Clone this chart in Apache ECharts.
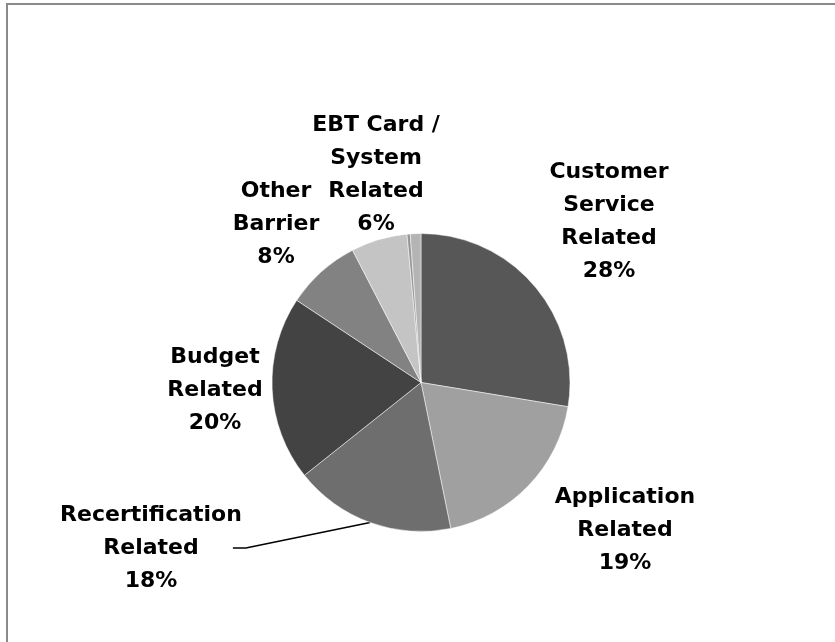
<!DOCTYPE html>
<html>
<head>
<meta charset="utf-8">
<script src="https://cdn.jsdelivr.net/npm/echarts@6/dist/echarts.min.js"></script>
<style>
  html, body { margin: 0; padding: 0; background: #ffffff; }
  #chart { width: 835px; height: 642px; }
</style>
</head>
<body>
<div id="chart"></div>
<script>
// Barrier categories, clockwise from 12 o'clock (the last two are unlabelled slivers)
const categories = [
  'Customer\nService\nRelated',
  'Application\nRelated',
  'Recertification\nRelated',
  'Budget\nRelated',
  'Other\nBarrier',
  'EBT Card /\nSystem\nRelated',
  'Minor A',
  'Minor B'
];
// Share of responses (percent)
const shares = [27.6, 19.2, 17.5, 20.0, 8.1, 6.1, 0.35, 1.15];
// Whether each slice carries a label
const labelled = [true, true, true, true, true, true, false, false];

// Presentation
const sliceColors = ['#575757', '#a0a0a0', '#6e6e6e', '#434343', '#828282', '#c4c4c4', '#969696', '#b4b4b4'];
// Label block centres (px) for the labelled slices
const labelAnchors = [[609, 222], [625, 530], [151, 548], [215, 390], [276, 224], [376, 175]];
const LEADER_INDEX = 2; // the one label drawn with a leader line

const chart = echarts.init(document.getElementById('chart'), null, { renderer: 'canvas' });

const data = categories.map((name, i) => ({
  name: name,
  value: shares[i],
  itemStyle: { color: sliceColors[i] },
  label: { show: labelled[i] },
  labelLine: { show: i === LEADER_INDEX }
}));

chart.setOption({
  animation: false,
  backgroundColor: '#ffffff',
  graphic: [{
    type: 'rect',
    shape: { x: 7, y: 4, width: 900, height: 700 },
    style: { fill: 'none', stroke: '#8a8a8a', lineWidth: 2 },
    silent: true
  }],
  series: [{
    type: 'pie',
    center: [421, 382.5],
    radius: 149,
    startAngle: 90,
    clockwise: true,
    percentPrecision: 0,
    avoidLabelOverlap: false,
    itemStyle: { borderColor: '#ffffff', borderWidth: 0.5 },
    label: {
      show: true,
      position: 'outside',
      formatter: '{b}\n{d}%',
      color: '#000000',
      fontFamily: '"DejaVu Sans", sans-serif',
      fontWeight: 'bold',
      fontSize: 22,
      lineHeight: 33,
      align: 'center'
    },
    labelLine: {
      show: false,
      lineStyle: { color: '#000000', width: 1.5 },
      smooth: false
    },
    emphasis: { disabled: true },
    labelLayout: function (params) {
      const anchor = labelAnchors[params.dataIndex];
      if (!anchor) { return {}; }
      const out = {
        x: anchor[0],
        y: anchor[1],
        align: 'center',
        verticalAlign: 'middle'
      };
      if (params.dataIndex === LEADER_INDEX && params.labelLinePoints) {
        const start = params.labelLinePoints[0];
        const right = anchor[0] + params.labelRect.width / 2;
        out.labelLinePoints = [
          [start[0], start[1]],
          [right + 4, anchor[1]],
          [right - 9, anchor[1]]
        ];
      }
      return out;
    },
    data: data
  }]
});
</script>
</body>
</html>
